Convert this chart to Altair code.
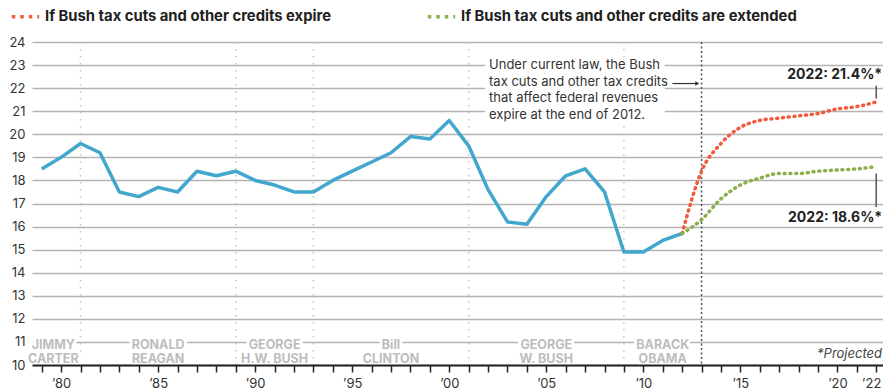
import altair as alt
import pandas as pd

# ---------------- data ----------------
years_actual = list(range(1979, 2013))
revenue_actual = [18.5, 19.0, 19.6, 19.2, 17.5, 17.3, 17.7, 17.5, 18.4, 18.2,
                  18.4, 18.0, 17.8, 17.5, 17.5, 18.0, 18.4, 18.8, 19.2, 19.9,
                  19.8, 20.6, 19.5, 17.6, 16.2, 16.1, 17.3, 18.2, 18.5, 17.5,
                  14.9, 14.9, 15.4, 15.7]

years_proj = list(range(2012, 2023))
revenue_expire = [15.7, 18.4, 19.6, 20.3, 20.6, 20.7, 20.8, 20.9, 21.1, 21.2, 21.4]
revenue_extended = [15.7, 16.3, 17.2, 17.8, 18.1, 18.3, 18.3, 18.4, 18.45, 18.5, 18.6]

series_names = ["If Bush tax cuts and other credits expire",
                "If Bush tax cuts and other credits are extended"]
series_colors = ["#f15a3a", "#8cae4b"]

transition_years = [1981, 1989, 1993, 2001, 2009]
law_change_year = [2013]

president_line1 = ["JIMMY", "RONALD", "GEORGE", "Bill", "GEORGE", "BARACK"]
president_line2 = ["CARTER", "REAGAN", "H.W. BUSH", "CLINTON", "W. BUSH", "OBAMA"]
president_center = [1979.6, 1985, 1991, 1997, 2005, 2011]

end_labels = ["2022: 21.4%*", "2022: 18.6%*"]
end_values = [21.4, 18.6]

note_lines = ["Under current law, the Bush",
              "tax cuts and other tax credits",
              "that affect federal revenues",
              "expire at the end of 2012."]

y_ticks = list(range(10, 25))
x_ticks = list(range(1979, 2023))

# ---------------- layout constants ----------------
FONT = "Inter"
X_DOMAIN = [1978.5, 2022.35]
Y_DOMAIN = [10, 24]

actual_df = pd.DataFrame({"year": years_actual, "value": revenue_actual})
proj_df = pd.concat([
    pd.DataFrame({"year": years_proj, "value": revenue_expire, "series": series_names[0]}),
    pd.DataFrame({"year": years_proj, "value": revenue_extended, "series": series_names[1]}),
])
trans_df = pd.DataFrame({"year": transition_years})
law_df = pd.DataFrame({"year": law_change_year})
pres_df = pd.DataFrame({"x": president_center, "l1": president_line1,
                        "l2": president_line2, "y1": 10.87, "y2": 10.26})

xs = alt.Scale(domain=X_DOMAIN, nice=False, zero=False)
ys = alt.Scale(domain=Y_DOMAIN, nice=False, zero=False)

x_axis = alt.Axis(values=x_ticks, grid=False, title=None, zindex=1,
                  labelExpr="(datum.value % 5 == 0 || datum.value == 2022) ? '\u2019' + substring(toString(datum.value), 2, 4) : ''",
                  labelOverlap=False, labelFlush=False,
                  labelOffset={"condition": {"test": "datum.value == 2022", "value": -5},
                               "value": 0},
                  tickColor="#222", tickWidth=1.5, tickSize=7,
                  domainColor="#222", domainWidth=2,
                  labelFont=FONT, labelFontSize=13, labelColor="#333", labelPadding=5)
y_axis = alt.Axis(values=y_ticks, grid=True, gridColor="#b3b3b3", gridWidth=1.5,
                  domain=False, ticks=False, title=None, labelOverlap=False,
                  labelFont=FONT, labelFontSize=13, labelColor="#333", labelPadding=7)


def X(field):
    return alt.X(field, scale=xs, axis=x_axis)


def Y(field):
    return alt.Y(field, scale=ys, axis=y_axis)


trans_rules = alt.Chart(trans_df).mark_rule(color="#c4c4c4", strokeWidth=1.5,
                                           strokeDash=[1.5, 5.5]).encode(x=X("year:Q"))
law_rule = alt.Chart(law_df).mark_rule(color="#555", strokeWidth=1.5,
                                       strokeDash=[2, 2.5]).encode(x=X("year:Q"))

# white box behind the annotation
note_box = alt.Chart(pd.DataFrame({"x": [2001.85], "x2": [2011.1],
                                   "y": [20.55], "y2": [23.35]})).mark_rect(
    color="white").encode(x=X("x:Q"), x2="x2:Q", y=Y("y:Q"), y2="y2:Q")

note_text = alt.Chart(pd.DataFrame({"x": [2002.05], "y": [23.0],
                                    "t": ["\n".join(note_lines)]})).mark_text(
    align="left", baseline="middle", font=FONT, fontSize=13, color="#333",
    lineBreak="\n", lineHeight=16.5).encode(x=X("x:Q"), y=Y("y:Q"), text="t:N")

arrow_line = alt.Chart(pd.DataFrame({"x": [2011.5], "x2": [2012.75], "y": [22.2]})).mark_rule(
    color="#333", strokeWidth=1.2).encode(x=X("x:Q"), x2="x2:Q", y=Y("y:Q"))
arrow_head = alt.Chart(pd.DataFrame({"x": [2012.78], "y": [22.2]})).mark_point(
    shape="triangle-right", filled=True, color="#333", size=22, opacity=1).encode(
    x=X("x:Q"), y=Y("y:Q"))


def pres_layer(field, yfield, halo):
    kw = dict(align="center", baseline="middle", font=FONT, fontSize=12.5,
              fontWeight="bold")
    if halo:
        kw.update(stroke="white", strokeWidth=6, strokeJoin="round", color="white")
    else:
        kw.update(color="#bdbdbd")
    return alt.Chart(pres_df).mark_text(**kw).encode(
        x=X("x:Q"), y=Y(f"{yfield}:Q"), text=f"{field}:N")


pres_layers = [pres_layer("l1", "y1", True), pres_layer("l2", "y2", True),
               pres_layer("l1", "y1", False), pres_layer("l2", "y2", False)]

actual_line = alt.Chart(actual_df).mark_line(color="#41a7cc", strokeWidth=3.5,
                                             strokeJoin="round").encode(
    x=X("year:Q"), y=Y("value:Q"))

proj_lines = alt.Chart(proj_df).mark_line(strokeWidth=3.5, strokeDash=[1, 4.8],
                                          strokeCap="round",
                                          interpolate="monotone").encode(
    x=X("year:Q"), y=Y("value:Q"),
    color=alt.Color("series:N",
                    scale=alt.Scale(domain=series_names, range=series_colors),
                    legend=alt.Legend(title=None, orient="none", direction="horizontal",
                                      legendX=-22, legendY=-41,
                                      symbolType="stroke", symbolSize=750,
                                      symbolStrokeWidth=3.5, symbolDash=[3.5, 5],
                                      labelFont=FONT, labelFontSize=14.8,
                                      labelFontWeight="bold", labelColor="#222",
                                      labelOffset=4, columnPadding=88,
                                      labelLimit=500)),
    detail="series:N")

# end labels and connectors
end_df = pd.DataFrame({"year": [2022, 2022], "value": end_values, "label": end_labels,
                       "ly": [22.57, 16.35], "r1": [21.55, 16.85], "r2": [22.1, 18.3]})
end_text = alt.Chart(end_df).mark_text(align="right", baseline="middle", font=FONT,
                                       fontSize=14, fontWeight="bold", color="#222",
                                       dx=6).encode(
    x=X("year:Q"), y=Y("ly:Q"), text="label:N")
end_rules = alt.Chart(end_df).mark_rule(color="#555", strokeWidth=1.5).encode(
    x=X("year:Q"), y=Y("r1:Q"), y2="r2:Q")

projected = alt.Chart(pd.DataFrame({"x": [2022.3], "y": [10.48], "t": ["*Projected"]})).mark_text(
    align="right", baseline="middle", font=FONT, fontSize=13, fontStyle="italic",
    color="#444").encode(x=X("x:Q"), y=Y("y:Q"), text="t:N")

chart = alt.layer(
    trans_rules, law_rule, note_box, note_text, arrow_line, arrow_head,
    *pres_layers, actual_line, proj_lines, end_rules, end_text, projected
).properties(
    width=851, height=323,
    autosize=alt.AutoSizeParams(type="none"),
    padding={"left": 24, "top": 34, "right": 0, "bottom": 25},
).configure_view(stroke=None)

chart.save("out.html", embed_options={"renderer": "svg", "actions": False})
